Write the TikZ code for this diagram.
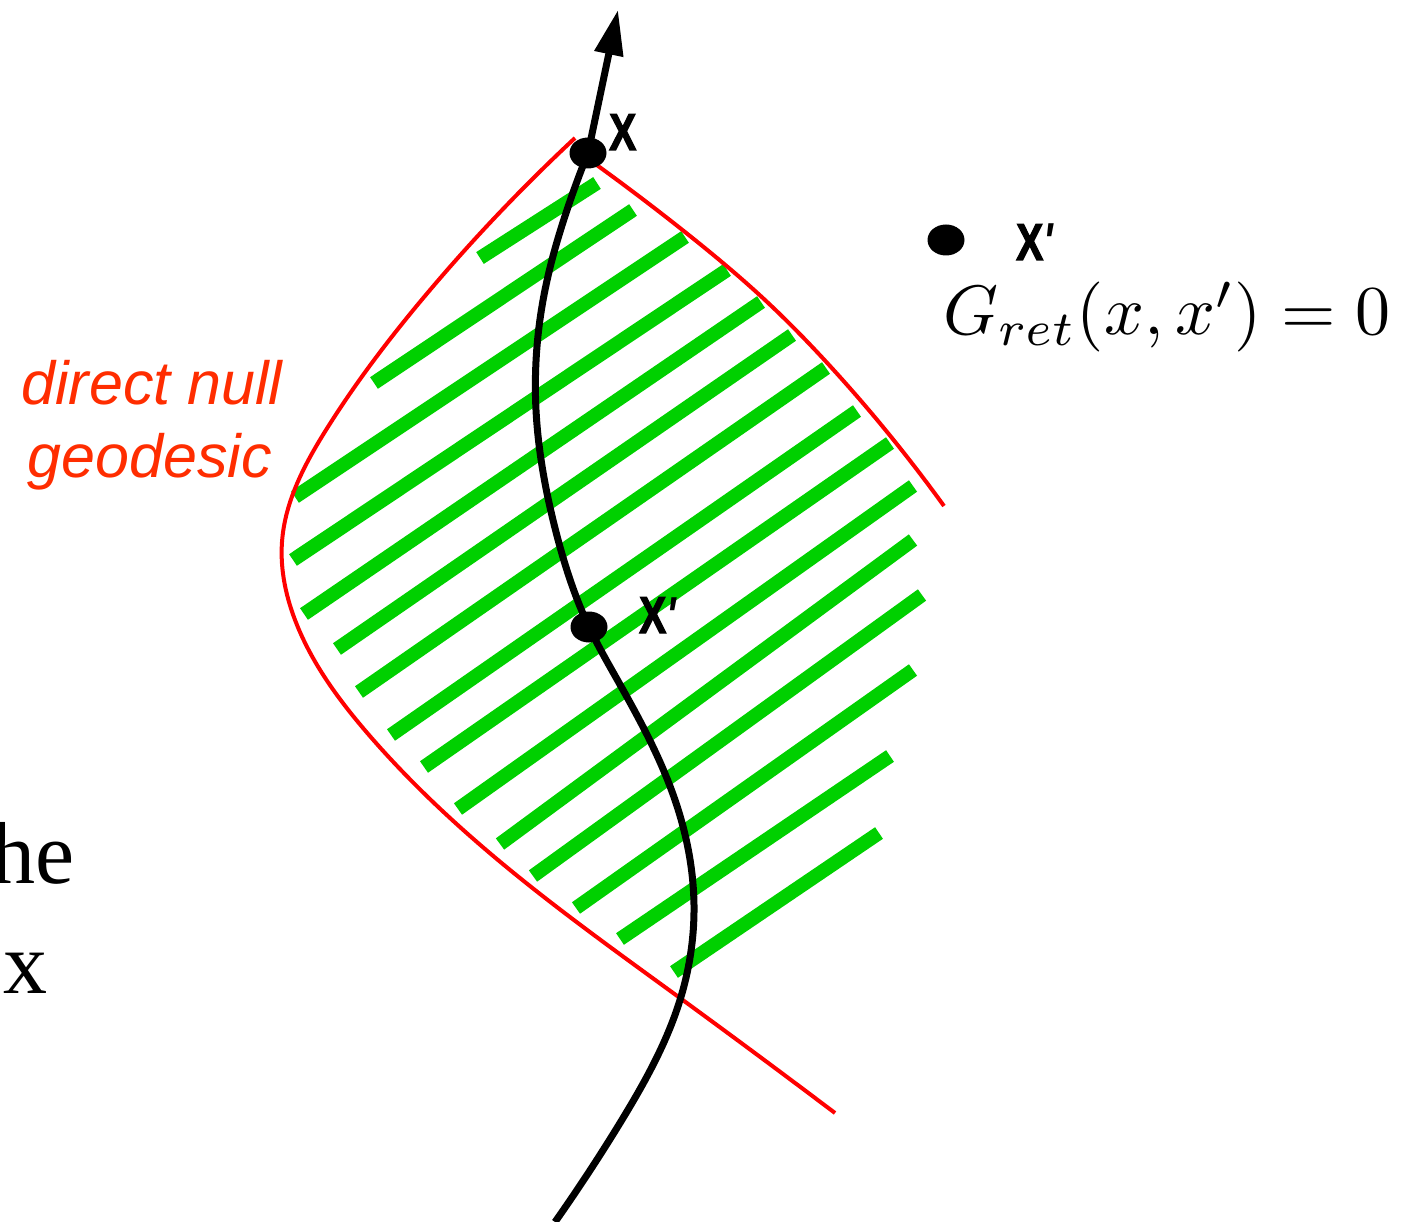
\documentclass[tikz,border=0pt]{standalone}
\usepackage{fontspec}
\usepackage{graphicx}
\usetikzlibrary{arrows.meta,shapes.geometric,hobby}
\newfontfamily\labfont[BoldFeatures={FakeBold=2.5}]{Liberation Sans}
\newfontfamily\geofont{Liberation Sans}
\newfontfamily\serfont{Liberation Serif}
\definecolor{stripegreen}{RGB}{0,208,0}
\definecolor{nullred}{RGB}{255,0,0}
\definecolor{textred}{RGB}{255,45,0}
\newcommand{\ptprime}{{\itshape\textquotesingle}}
\tikzset{
  stripe/.style={draw=stripegreen, line width=14pt, line cap=butt},
  nullcurve/.style={draw=nullred, line width=4pt},
  world/.style={draw=black, line width=7pt},
  dot/.style={ellipse, fill=black, inner sep=0pt, minimum width=37pt, minimum height=31pt},
  ptlab/.style={inner sep=0pt, font=\labfont\bfseries\fontsize{52}{60}\selectfont},
  geolab/.style={inner sep=0pt, text=textred, font=\geofont\itshape\fontsize{61}{73}\selectfont},
  serlab/.style={inner sep=0pt, font=\serfont\fontsize{88}{100}\selectfont},
  mathlab/.style={inner sep=0pt}
}
\begin{document}
\begin{tikzpicture}[x=1pt,y=-1pt]
\useasboundingbox (0,0) rectangle (1417,1222);

% green hatching
\foreach \a/\b/\c/\d in {480/258/597/183, 374/383/633/210, 295/497/685/237,
  293/560/727/270, 304/614/761/302, 337/649/792/335, 359/692/826/368,
  391/735/857/411, 424/767/890/443, 458/809/913/486, 500/844/913/540,
  533/876/922/595, 576/908/913/670, 620/939/890/756, 674/972/879/833}
  \draw[stripe] (\a,\b) -- (\c,\d);

% null geodesics
\draw[nullcurve, use Hobby shortcut] (575,138) .. (430,290) .. (326,430) .. (282,542) .. (297,625) .. (369,735) .. (498,860) .. (680,998) .. (835,1113);
\draw[nullcurve, use Hobby shortcut] (580,153) .. (690,236) .. (765,300) .. (830,366) .. (944,506);

% world line
\coordinate (bot) at (555,1222);
\coordinate (X) at (588,153);
\coordinate (XP) at (589,627);
\coordinate (tip) at (618,10);
\draw[world, use Hobby shortcut] (bot) .. (620,1123) .. (680,1000) .. (694,905) .. (675,800) .. (618,681) .. (XP) .. (556,532) .. (536,410) .. (545,290) .. (565,216) .. (X);
\draw[world, -{Triangle[length=45pt,width=28pt]}] (X) -- (tip);

% points
\node[dot] (xdot) at (X) {};
\node[dot] (xpdot) at (XP) {};
\node[dot] (farpt) at (946,240) {};

\node[ptlab, anchor=base west] (xlab) at (609,150) {\scalebox{0.78}[1]{X}};
\node[ptlab, anchor=base west] (xplab) at (639,633) {\scalebox{0.78}[1]{X\ptprime}};
\node[ptlab, anchor=base west] (farlab) at (1016,260) {\scalebox{0.78}[1]{X\ptprime}};

\node[mathlab, anchor=base west] (green) at (943,335) {\scalebox{7}{$G_{ret}(x,x')=0$}};

\node[geolab, anchor=base] (geo1) at (152,405) {direct null};
\node[geolab, anchor=base] (geo2) at (150,478) {geodesic};

\node[serlab, anchor=base east] (he) at (75,883) {he};
\node[serlab, anchor=base west] (xx) at (3,993) {x};
\end{tikzpicture}
\end{document}
